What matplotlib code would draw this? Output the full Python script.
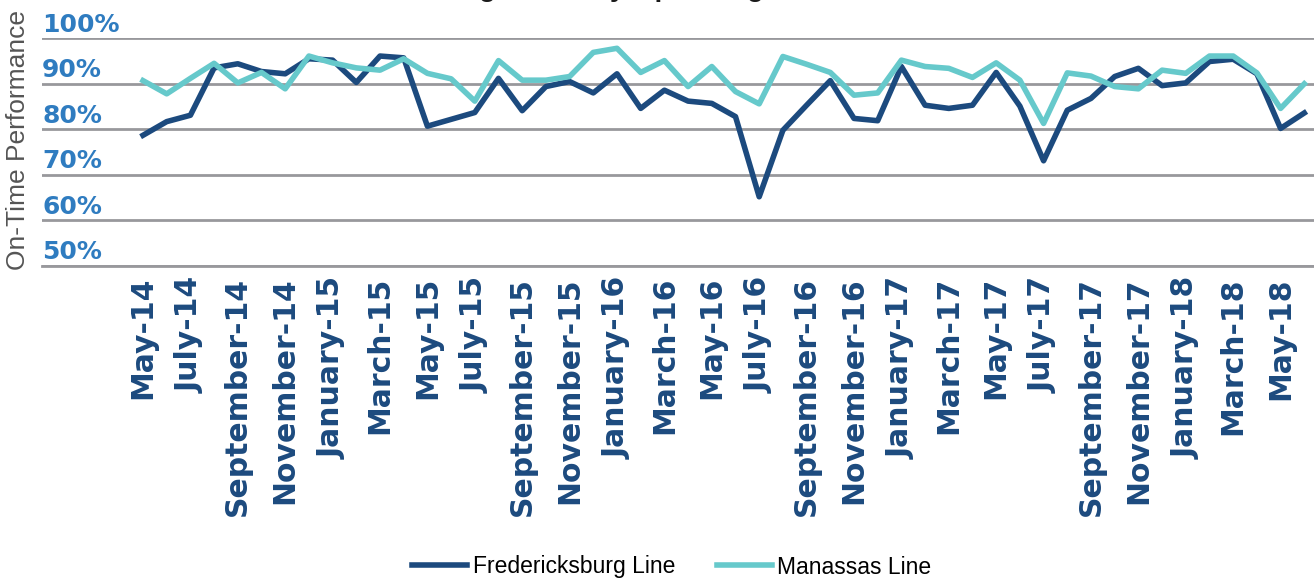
import matplotlib
matplotlib.use("Agg")
import matplotlib.pyplot as plt
from matplotlib.transforms import ScaledTranslation

# monthly on-time performance, May-14 .. June-18
fredericksburg = [78.7, 81.7, 83.1, 93.5, 94.4, 92.7, 92.2, 95.5, 95.2, 90.3,
                  96.1, 95.7, 80.7, 82.2, 83.7, 91.2, 84.1, 89.4, 90.5, 88.0,
                  92.2, 84.6, 88.6, 86.2, 85.7, 82.8, 65.2, 79.8, 85.3, 90.7,
                  82.4, 81.9, 93.8, 85.3, 84.6, 85.3, 92.5, 85.1, 73.1, 84.2,
                  86.8, 91.6, 93.4, 89.6, 90.2, 94.9, 95.4, 92.2, 80.2, 83.6]
manassas = [90.7, 87.8, 91.2, 94.5, 90.2, 92.5, 88.9, 96.1, 94.6, 93.5,
            93.0, 95.5, 92.3, 91.1, 86.2, 95.1, 90.8, 90.8, 91.6, 96.9,
            97.8, 92.5, 95.1, 89.4, 93.8, 88.3, 85.6, 96.0, 94.3, 92.5,
            87.5, 88.0, 95.2, 93.8, 93.4, 91.4, 94.6, 90.8, 81.3, 92.4,
            91.7, 89.4, 88.9, 93.0, 92.3, 96.1, 96.1, 92.4, 84.6, 90.0]
tick_labels = ["May-14", "July-14", "September-14", "November-14",
               "January-15", "March-15", "May-15", "July-15", "September-15",
               "November-15", "January-16", "March-16", "May-16", "July-16",
               "September-16", "November-16", "January-17", "March-17",
               "May-17", "July-17", "September-17", "November-17",
               "January-18", "March-18", "May-18"]
y_ticks = [50, 60, 70, 80, 90, 100]

dark = "#1c4a7e"
teal = "#66c9cb"
blue = "#2f7cc0"
grid = "#98989c"

fig = plt.figure(figsize=(13.14, 5.79), dpi=100)
ax = fig.add_axes([0.032, 0.5406, 0.968, 0.3933])

x = list(range(len(fredericksburg)))
ax.plot(x, fredericksburg, color=dark, lw=4.0, label="Fredericksburg Line", zorder=3)
ax.plot(x, manassas, color=teal, lw=4.0, label="Manassas Line", zorder=3)

ax.set_xlim(-4.26, 49.41)
ax.set_ylim(50, 100)

ax.set_yticks(y_ticks)
ax.set_yticklabels([f"{v}%" for v in y_ticks], color=blue, fontsize=18,
                   fontweight="bold", family="DejaVu Sans", ha="left")
ax.tick_params(axis="y", length=0, pad=0)
for lab in ax.get_yticklabels():
    lab.set_transform(lab.get_transform() + ScaledTranslation(0.0, 0.16, fig.dpi_scale_trans))

ax.set_xticks(x[::2])
ax.set_xticklabels(tick_labels, rotation=90, color=dark, fontsize=21.5,
                   fontweight="bold", family="DejaVu Sans")
ax.tick_params(axis="x", length=0, pad=8)

ax.grid(axis="y", color=grid, lw=2.0)
ax.set_axisbelow(True)
for s in ["top", "right", "left"]:
    ax.spines[s].set_visible(False)
ax.spines["bottom"].set_color(grid)
ax.spines["bottom"].set_linewidth(2.0)

fig.text(18 / 1314, 1 - 140 / 579, "On-Time Performance", rotation=90,
         ha="center", va="center", fontsize=19, color="#555555",
         family="Liberation Sans")

# title, mostly cut off at the top of the picture
fig.text(672 / 1314, 1 + 4 / 579, "Average Monthly Operating Performance",
         ha="center", va="baseline", fontsize=20, fontweight="bold",
         color="#1a1a1a", family="Liberation Sans")

fig.legend(loc="center", bbox_to_anchor=(672 / 1314, 1 - 567 / 579), ncol=2,
           frameon=False, handlelength=2.4, handletextpad=0.25,
           columnspacing=1.8, prop={"family": "Liberation Sans", "size": 16.5})

fig.savefig("out.png", dpi=100)
